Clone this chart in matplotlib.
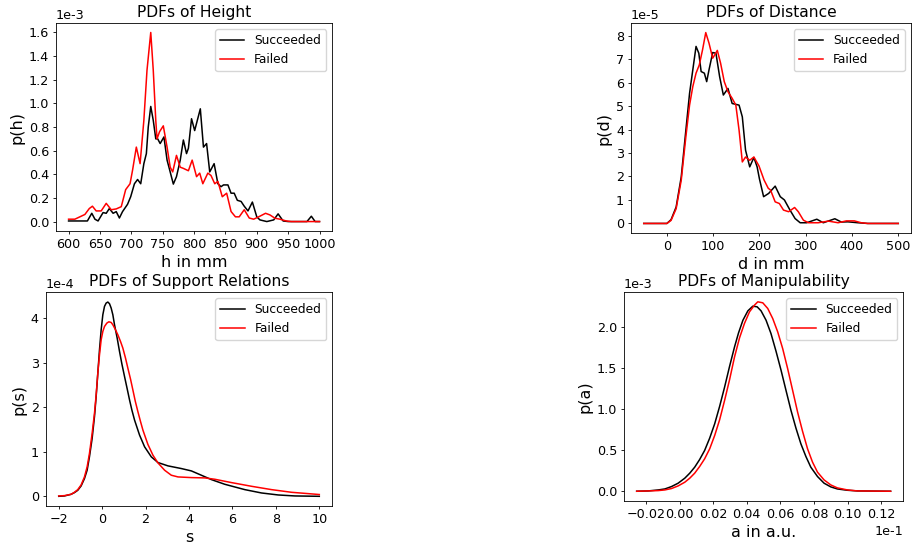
import numpy as np
import matplotlib
matplotlib.use("Agg")
import matplotlib.pyplot as plt
from matplotlib.ticker import ScalarFormatter, MultipleLocator

# Height (mm) vs p(h) in units of 1e-3
h_succ = [600, 630, 637, 642, 647, 655, 660, 665, 671, 676, 681, 686, 694, 699, 705,
          710, 715, 720, 724, 727, 731, 735, 739, 742, 746, 752, 757, 760, 767, 772,
          778, 783, 788, 791, 796, 801, 810, 815, 820, 825, 832, 838, 843, 847, 854,
          859, 864, 869, 875, 880, 886, 893, 900, 905, 916, 927, 934, 942, 950, 980,
          987, 993, 1000]
ph_succ = [0.005, 0.005, 0.07, 0.02, 0.005, 0.076, 0.07, 0.11, 0.07, 0.084, 0.03, 0.084,
           0.146, 0.21, 0.32, 0.356, 0.32, 0.49, 0.575, 0.8, 0.974, 0.856, 0.70, 0.70,
           0.66, 0.716, 0.52, 0.46, 0.317, 0.38, 0.52, 0.69, 0.575, 0.62, 0.87, 0.77,
           0.954, 0.63, 0.66, 0.42, 0.49, 0.32, 0.295, 0.31, 0.31, 0.24, 0.24, 0.18,
           0.17, 0.13, 0.09, 0.165, 0.04, 0.014, 0.0, 0.014, 0.065, 0.005, 0.0, 0.0,
           0.045, 0.0, 0.0]
h_fail = [600, 610, 618, 626, 633, 638, 644, 652, 660, 668, 676, 684, 691, 698, 702,
          708, 714, 720, 725, 731, 735, 739, 741, 745, 751, 757, 762, 766, 772, 778,
          783, 791, 797, 804, 809, 814, 822, 827, 833, 838, 845, 852, 859, 866, 872,
          880, 888, 895, 903, 914, 921, 929, 937, 947, 955, 1000]
ph_fail = [0.02, 0.02, 0.04, 0.06, 0.11, 0.13, 0.09, 0.09, 0.154, 0.10, 0.107, 0.126,
           0.27, 0.32, 0.435, 0.63, 0.49, 0.856, 1.28, 1.6, 1.28, 0.856, 0.70, 0.76,
           0.81, 0.63, 0.46, 0.42, 0.56, 0.46, 0.45, 0.43, 0.52, 0.38, 0.41, 0.32,
           0.41, 0.39, 0.32, 0.34, 0.21, 0.24, 0.085, 0.04, 0.04, 0.10, 0.03, 0.02,
           0.04, 0.07, 0.056, 0.028, 0.02, 0.005, 0.0, 0.0]

# Distance (mm) vs p(d) in units of 1e-5
d_succ = [-50, 0, 9, 20, 31, 41, 49, 56, 63, 69, 74, 81, 86, 91, 99, 106, 114, 122,
          132, 141, 156, 163, 170, 179, 188, 195, 200, 209, 220, 234, 245, 254, 266,
          277, 288, 302, 324, 338, 363, 377, 391, 413, 434, 500]
pd_succ = [0.0, 0.0, 0.16, 0.7, 1.98, 3.97, 5.54, 6.54, 7.54, 7.25, 6.47, 6.4, 6.04,
           6.54, 7.28, 7.25, 6.25, 5.47, 5.75, 5.11, 5.04, 4.54, 3.12, 2.41, 2.81,
           2.41, 1.9, 1.14, 1.28, 1.59, 1.14, 1.0, 0.57, 0.21, 0.03, 0.03, 0.18, 0.03,
           0.2, 0.06, 0.07, 0.03, 0.0, 0.0]
d_fail = [-50, 0, 9, 20, 31, 41, 49, 56, 63, 70, 77, 84, 91, 99, 104, 109, 116, 124,
          132, 141, 149, 156, 163, 170, 179, 188, 199, 210, 219, 224, 234, 243, 252,
          263, 276, 284, 295, 306, 327, 349, 370, 388, 405, 420, 434, 500]
pd_fail = [0.0, 0.0, 0.13, 0.63, 1.84, 3.69, 5.04, 5.83, 6.4, 6.75, 7.39, 8.13, 7.68,
           7.04, 7.2, 7.37, 6.83, 6.04, 5.61, 5.33, 5.04, 3.97, 2.62, 2.83, 2.69, 2.83,
           2.45, 1.85, 1.5, 1.42, 0.92, 0.85, 0.57, 0.5, 0.68, 0.5, 0.14, 0.03, 0.03,
           0.1, 0.03, 0.11, 0.11, 0.03, 0.0, 0.0]

# Support relations s vs p(s) in units of 1e-4
s_succ = [-2.0, -1.738, -1.431, -1.277, -1.123, -0.969, -0.815, -0.692, -0.585, -0.462,
          -0.354, -0.277, -0.2, -0.123, -0.046, 0.031, 0.108, 0.185, 0.262, 0.338,
          0.415, 0.492, 0.569, 0.692, 0.8, 0.908, 1.031, 1.154, 1.262, 1.369, 1.492,
          1.723, 1.954, 2.262, 2.569, 3.031, 3.646, 4.108, 4.569, 5.031, 5.646, 6.569,
          7.338, 8.108, 8.877, 10.0]
ps_succ = [0.0, 0.0075, 0.045, 0.083, 0.135, 0.233, 0.398, 0.586, 0.886, 1.298, 1.786,
           2.236, 2.762, 3.287, 3.737, 4.075, 4.263, 4.338, 4.36, 4.323, 4.225, 4.075,
           3.85, 3.55, 3.25, 2.972, 2.687, 2.409, 2.161, 1.936, 1.711, 1.373, 1.111,
           0.886, 0.758, 0.683, 0.623, 0.57, 0.473, 0.375, 0.27, 0.15, 0.075, 0.03,
           0.008, 0.0]
s_fail = [-2.0, -1.738, -1.431, -1.277, -1.123, -0.969, -0.815, -0.692, -0.585, -0.462,
          -0.354, -0.277, -0.2, -0.123, -0.046, 0.031, 0.108, 0.215, 0.308, 0.415,
          0.492, 0.6, 0.723, 0.846, 0.954, 1.077, 1.185, 1.308, 1.415, 1.523, 1.646,
          1.769, 1.877, 2.0, 2.108, 2.231, 2.338, 2.569, 2.877, 3.185, 3.492, 4.108,
          4.723, 5.185, 5.954, 6.877, 7.8, 8.723, 10.0]
ps_fail = [0.0075, 0.015, 0.045, 0.09, 0.15, 0.255, 0.435, 0.661, 0.961, 1.411, 1.861,
           2.274, 2.762, 3.174, 3.512, 3.7, 3.812, 3.887, 3.917, 3.902, 3.85, 3.752,
           3.625, 3.475, 3.325, 3.099, 2.874, 2.627, 2.386, 2.139, 1.899, 1.674, 1.486,
           1.313, 1.163, 1.036, 0.923, 0.75, 0.585, 0.473, 0.435, 0.42, 0.413, 0.383,
           0.308, 0.225, 0.15, 0.09, 0.04]

# Manipulability a (units of 1e-1) vs p(a) in units of 1e-3
a_succ = [-0.02553, -0.01862, -0.0127, -0.00875, -0.0048, -0.00085, 0.0031, 0.00606,
          0.009, 0.01194, 0.0149, 0.01791, 0.0209, 0.02384, 0.0268, 0.02976, 0.0327,
          0.03509, 0.0377, 0.04064, 0.0436, 0.04617, 0.0485, 0.05147, 0.0544, 0.05741,
          0.0604, 0.06333, 0.0663, 0.06926, 0.0722, 0.07518, 0.0781, 0.08209, 0.086,
          0.08999, 0.0939, 0.09988, 0.1058, 0.1256]
pa_succ = [0.0, 0.004, 0.016, 0.028, 0.057, 0.098, 0.159, 0.22, 0.293, 0.386, 0.496,
           0.646, 0.821, 1.033, 1.268, 1.52, 1.756, 1.927, 2.081, 2.195, 2.252, 2.244,
           2.195, 2.081, 1.919, 1.703, 1.472, 1.228, 0.984, 0.768, 0.577, 0.423, 0.293,
           0.179, 0.098, 0.053, 0.028, 0.012, 0.004, 0.0]
a_fail = [-0.02553, -0.01862, -0.0127, -0.00875, -0.0048, -0.00085, 0.0031, 0.00606,
          0.009, 0.01194, 0.0149, 0.01791, 0.0209, 0.02384, 0.0268, 0.02976, 0.0327,
          0.03568, 0.0386, 0.04161, 0.04456, 0.04655, 0.04951, 0.05247, 0.05543, 0.0584,
          0.06136, 0.06432, 0.06728, 0.07024, 0.07321, 0.07617, 0.07913, 0.08209, 0.086,
          0.08999, 0.0939, 0.09988, 0.1058, 0.1256]
pa_fail = [0.0, 0.004, 0.008, 0.016, 0.033, 0.065, 0.11, 0.159, 0.22, 0.301, 0.394,
           0.516, 0.679, 0.87, 1.106, 1.358, 1.634, 1.866, 2.041, 2.183, 2.264, 2.305,
           2.293, 2.224, 2.102, 1.939, 1.736, 1.492, 1.228, 0.963, 0.728, 0.516, 0.354,
           0.232, 0.138, 0.077, 0.041, 0.016, 0.004, 0.0]


class HyphenFormatter(ScalarFormatter):
    # offset text like "1e-3" with a plain hyphen
    def get_offset(self):
        return super().get_offset().replace("\u2212", "-")


def sci_fmt(power):
    f = HyphenFormatter()
    f.set_powerlimits((power, power))
    return f


plt.rcParams["font.size"] = 9
plt.rcParams["axes.linewidth"] = 0.6
for k in ("xtick", "ytick"):
    plt.rcParams[k + ".major.size"] = 2.5
    plt.rcParams[k + ".major.pad"] = 2.5
    plt.rcParams[k + ".major.width"] = 0.6
plt.rcParams["axes.titlepad"] = 4.3
plt.rcParams["axes.labelpad"] = 2.9

fig = plt.figure(figsize=(9.14, 5.52), dpi=100)

panels = [
    # rect, x/y succeeded, x/y failed, y scale, x scale, x step, y step, texts
    ([0.0613, 0.5815, 0.302, 0.3768], h_succ, ph_succ, h_fail, ph_fail, 1e-3, 1,
     50, 0.0002, "PDFs of Height", "h in mm", "p(h)"),
    ([0.6904, 0.5779, 0.3063, 0.3804], d_succ, pd_succ, d_fail, pd_fail, 1e-5, 1,
     100, 1e-5, "PDFs of Distance", "d in mm", "p(d)"),
    ([0.0500, 0.0833, 0.3136, 0.3871], s_succ, ps_succ, s_fail, ps_fail, 1e-4, 1,
     2, 1e-4, "PDFs of Support Relations", "s", "p(s)"),
    ([0.6827, 0.0929, 0.3056, 0.3775], a_succ, pa_succ, a_fail, pa_fail, 1e-3, 1e-1,
     0.002, 0.0005, "PDFs of Manipulability", "a in a.u.", "p(a)"),
]

for rect, xs, ys, xf, yf, ysc, xsc, xstep, ystep, title, xl, yl in panels:
    ax = fig.add_axes(rect)
    ax.plot(np.array(xs) * xsc, np.array(ys) * ysc, color="k", lw=1.1, label="Succeeded")
    ax.plot(np.array(xf) * xsc, np.array(yf) * ysc, color="r", lw=1.1, label="Failed")
    ax.set_title(title, fontsize=11.2)
    ax.set_xlabel(xl, fontsize=11.5)
    ax.set_ylabel(yl, fontsize=11.5)
    ax.tick_params(labelsize=9.2)
    ax.legend(loc="upper right", fontsize=8.8)
    ax.xaxis.set_major_locator(MultipleLocator(xstep))
    ax.yaxis.set_major_locator(MultipleLocator(ystep))
    ax.yaxis.set_major_formatter(sci_fmt(int(round(np.log10(ysc)))))
    if xsc != 1:
        ax.xaxis.set_major_formatter(sci_fmt(-1))
    for t in (ax.xaxis.get_offset_text(), ax.yaxis.get_offset_text()):
        t.set_fontsize(9.2)

fig.savefig("out.png", dpi=100)
